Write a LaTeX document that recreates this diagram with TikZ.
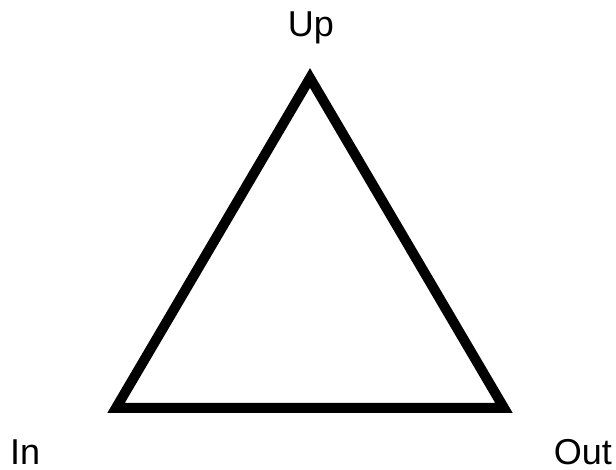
\documentclass[tikz,border=0pt]{standalone}
\usepackage{fontspec}
\setmainfont{Liberation Sans}
\usetikzlibrary{positioning}

\begin{document}
\begin{tikzpicture}[x=1pt, y=1pt, every node/.style={inner sep=0pt, font=\fontsize{36}{43}\selectfont}]
\useasboundingbox (0,0) rectangle (616,470);
\coordinate (apex) at (310,392);
\coordinate (left) at (116,62);
\coordinate (right) at (504,62);
\node (lup) [anchor=base] at (311,433) {Up};
\node (lin) [anchor=base west] at (10,5) {In};
\node (lout) [anchor=base east] at (612,5) {Out};

\draw [line width=10pt, line join=miter] (apex) -- (left) -- (right) -- cycle;
\end{tikzpicture}
\end{document}
